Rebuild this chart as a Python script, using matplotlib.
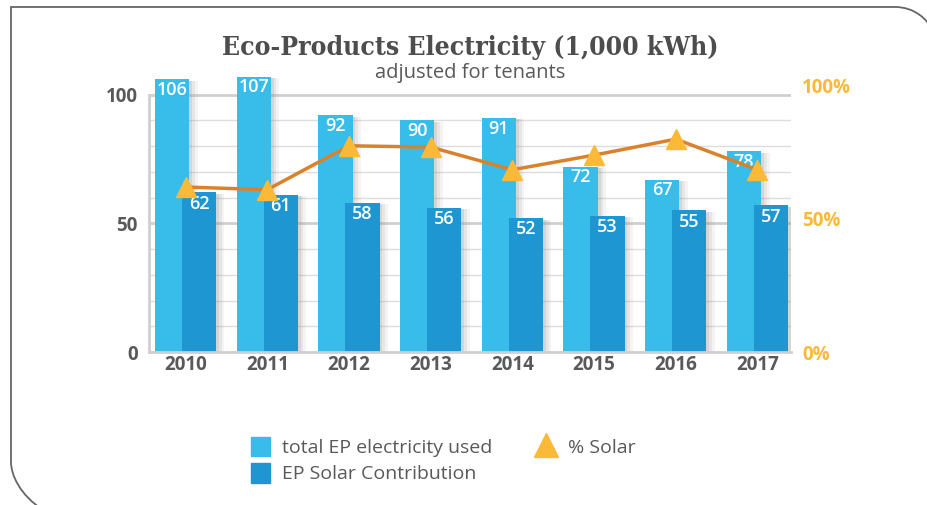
import matplotlib.pyplot as plt
import matplotlib.patheffects as pe
from matplotlib.path import Path
from matplotlib.patches import PathPatch, Patch
from matplotlib.lines import Line2D
import numpy as np

years = ["2010", "2011", "2012", "2013", "2014", "2015", "2016", "2017"]
total_used = [106, 107, 92, 90, 91, 72, 67, 78]
solar_contrib = [62, 61, 58, 56, 52, 53, 55, 57]
pct_solar = [62, 61, 77.5, 77, 68.5, 74, 80, 68.5]

light = "#38BDEB"
dark = "#1E96D2"
grey_txt = "#58595B"
gold = "#FBB938"
orange = "#D9822B"

plt.rcParams['font.family'] = ['Open Sans', 'DejaVu Sans']

fig = plt.figure(figsize=(9.28, 5.05), dpi=100)
W, H = 928, 505

# axes placed in pixel terms: x 149..791, value 0 at y=352, 110 at y=69
ax = fig.add_axes([149 / W, (H - 352) / H, 642 / W, 283.1 / H])
x = np.arange(len(years))
bw = 0.42
off = 0.165

shadow = [pe.SimplePatchShadow(offset=(6, -1), shadow_rgbFace="#aaaaaa", alpha=0.12),
          pe.SimplePatchShadow(offset=(4, -1), shadow_rgbFace="#999999", alpha=0.15),
          pe.SimplePatchShadow(offset=(2, -1), shadow_rgbFace="#888888", alpha=0.18), pe.Normal()]
b1 = ax.bar(x - off, total_used, bw, color=light, zorder=3, path_effects=shadow)
b2 = ax.bar(x + off, solar_contrib, bw, color=dark, zorder=4, path_effects=shadow)

for xi, v in zip(x - off, total_used):
    ax.text(xi, v - 0.7, str(v), ha="center", va="top", color="white",
            fontsize=13, fontweight="semibold", zorder=6)
for xi, v in zip(x + off, solar_contrib):
    ax.text(xi, v - 0.9, str(v), ha="center", va="top", color="white",
            fontsize=13, fontweight="semibold", zorder=6)

ax.set_xlim(-0.447, 7.41)
ax.set_ylim(0, 110)
for v in range(10, 100, 10):
    if v != 50:
        ax.axhline(v, color="#DDDDDD", lw=1, zorder=1)
for v in (50, 100):
    ax.axhline(v, color="#CFCFCF", lw=2, zorder=1)
for s in ("top", "right"):
    ax.spines[s].set_visible(False)
ax.spines["left"].set_bounds(0, 100)
ax.spines["left"].set_color("#CFCFCF")
ax.spines["left"].set_linewidth(2)
ax.spines["bottom"].set_color("#CFCFCF")
ax.spines["bottom"].set_linewidth(2)
ax.spines["bottom"].set_zorder(5)

ax.set_yticks([0, 50, 100])
ax.set_yticklabels(["0", "50", "100"])
ax.set_xticks(x)
ax.set_xticklabels(years)
ax.tick_params(axis="y", length=0, labelsize=13.5, labelcolor=grey_txt, pad=8)
ax.tick_params(axis="x", length=0, labelsize=13.5, labelcolor=grey_txt, pad=2)
for lab in ax.get_xticklabels() + ax.get_yticklabels():
    lab.set_fontweight("bold")

# right axis: 0% at y=352, 100% at y=86
ax2 = ax.twinx()
ax2.set_ylim(0, 106.4)
ax2.plot(x, pct_solar, color=orange, lw=2.5, zorder=7)
ax2.plot(x, pct_solar, ls="none", marker="^", ms=15, color=gold, zorder=8)
ax2.set_yticks([0, 50, 100])
ax2.set_yticklabels(["0%", "50%", "100%"])
ax2.tick_params(length=0, labelsize=13.5, labelcolor=gold, pad=8)
for lab in ax2.get_yticklabels():
    lab.set_fontweight("bold")
for s in ax2.spines.values():
    s.set_visible(False)

fig.text(470 / W, 1 - 47 / H, "Eco-Products Electricity (1,000 kWh)", ha="center", va="center",
         fontsize=19, color="#4D4D4F", family="DejaVu Serif", fontweight="bold",
         fontstretch="condensed")
fig.text(470 / W, 1 - 73 / H, "adjusted for tenants", ha="center", va="center",
         fontsize=14.5, color=grey_txt)

handles = [Patch(color=light), Patch(color=dark),
           Line2D([], [], ls="none", marker="^", ms=17, color=gold)]
labels = ["total EP electricity used", "EP Solar Contribution", "% Solar"]
fig.legend(handles, labels, loc="upper left", bbox_to_anchor=(233 / W, 1 - 419 / H), ncol=2,
           frameon=False, fontsize=14, labelcolor=grey_txt, handlelength=1.0, handleheight=1.2,
           handletextpad=0.6, columnspacing=2.3, labelspacing=0.3)

# partial rounded frame
verts = [(43, 510), (20, 495), (11, 475), (11, 462), (11, 7), (895, 7),
         (915, 7), (928, 20), (932, 30)]
codes = [Path.MOVETO, Path.CURVE4, Path.CURVE4, Path.CURVE4, Path.LINETO, Path.LINETO,
         Path.CURVE4, Path.CURVE4, Path.CURVE4]
verts = [(vx / W, 1 - vy / H) for vx, vy in verts]
fig.patches.append(PathPatch(Path(verts, codes), transform=fig.transFigure, fill=False,
                             edgecolor="#666666", lw=1.3))

fig.savefig("out.png", dpi=100)
